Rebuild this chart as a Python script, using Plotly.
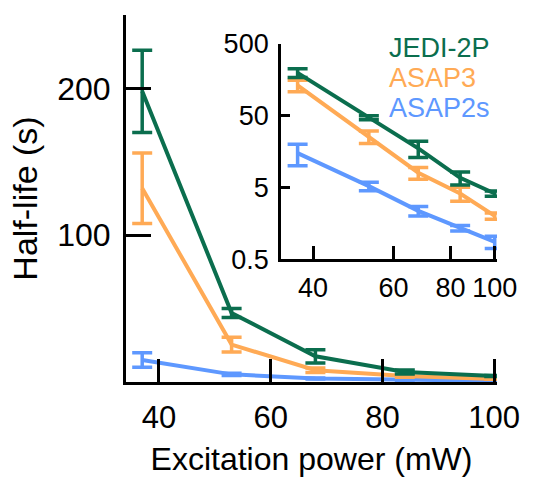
import plotly.graph_objects as go

# ---- data ----
power = [37, 53, 68, 84, 100]
series_names = ["JEDI-2P", "ASAP3", "ASAP2s"]
jedi_mean = [198, 47, 17.5, 6.8, 4.1]
jedi_err = [28, 3, 4.5, 1.4, 0.35]
asap3_mean = [132, 25.5, 8.0, 4.1, 2.0]
asap3_err = [24, 5, 1.5, 0.9, 0.2]
asap2s_mean = [15, 5.2, 2.35, 1.35, 0.87]
asap2s_err = [5, 0.7, 0.35, 0.12, 0.17]
main_yticks = [100, 200]
main_xticks = [40, 60, 80, 100]
inset_yticks = [0.5, 5, 50, 500]
inset_xticks = [40, 60, 80, 100]

colors = ["#0B6E4E", "#FFAA55", "#5E98FF"]
means = [jedi_mean, asap3_mean, asap2s_mean]
errs = [jedi_err, asap3_err, asap2s_err]

FONT = "Liberation Sans, Arial, sans-serif"

fig = go.Figure()

# draw order: blue, orange, green (green on top)
for idx in [2, 1, 0]:
    for xa, ya in [("x", "y"), ("x2", "y2")]:
        fig.add_trace(go.Scatter(
            x=power, y=means[idx], mode="lines",
            line=dict(color=colors[idx], width=4),
            error_y=dict(type="data", array=errs[idx], visible=True,
                         color=colors[idx], thickness=3.5, width=10),
            xaxis=xa, yaxis=ya, showlegend=False, name=series_names[idx],
        ))

# legend as text
legend_y = [0.910, 0.828, 0.747]
for name, c, yy in zip(series_names, colors, legend_y):
    fig.add_annotation(text=name, xref="paper", yref="paper", x=0.704, y=yy,
                       xanchor="left", yanchor="middle", showarrow=False,
                       font=dict(family=FONT, size=27, color=c))

axis_common = dict(showline=True, linecolor="black", linewidth=3, mirror=False,
                   showgrid=False, zeroline=False, ticks="inside",
                   tickcolor="black", tickwidth=2.5, automargin=False)

fig.update_layout(
    width=550, height=496,
    margin=dict(l=126, r=53, t=15, b=114),
    paper_bgcolor="white", plot_bgcolor="rgba(0,0,0,0)",
    font=dict(family=FONT, color="black"),
    xaxis=dict(**axis_common, range=[34.1, 100.5], tickvals=main_xticks,
               ticklen=23, tickfont=dict(size=31), ticklabelstandoff=6,
               title=dict(text="Excitation power (mW)", font=dict(size=32), standoff=14)),
    yaxis=dict(**axis_common, range=[0, 250], tickvals=main_yticks,
               ticklen=25, tickfont=dict(size=32), ticklabelstandoff=6,
               title=dict(text="Half-life (s)", font=dict(size=34), standoff=10)),
    xaxis2=dict(**axis_common, type="log", range=[1.532, 2.005],
                tickvals=inset_xticks, ticktext=[str(v) for v in inset_xticks],
                ticklen=13, tickfont=dict(size=27), ticklabelstandoff=3,
                domain=[0.418, 1.0], anchor="y2"),
    yaxis2=dict(**axis_common, type="log", range=[-0.301, 2.699],
                tickvals=inset_yticks, ticktext=["0.5", "5", "50", "500"],
                ticklen=9, tickfont=dict(size=27), ticklabelstandoff=4,
                domain=[0.335, 0.921], anchor="x2"),
)

fig.write_html("out.html")
